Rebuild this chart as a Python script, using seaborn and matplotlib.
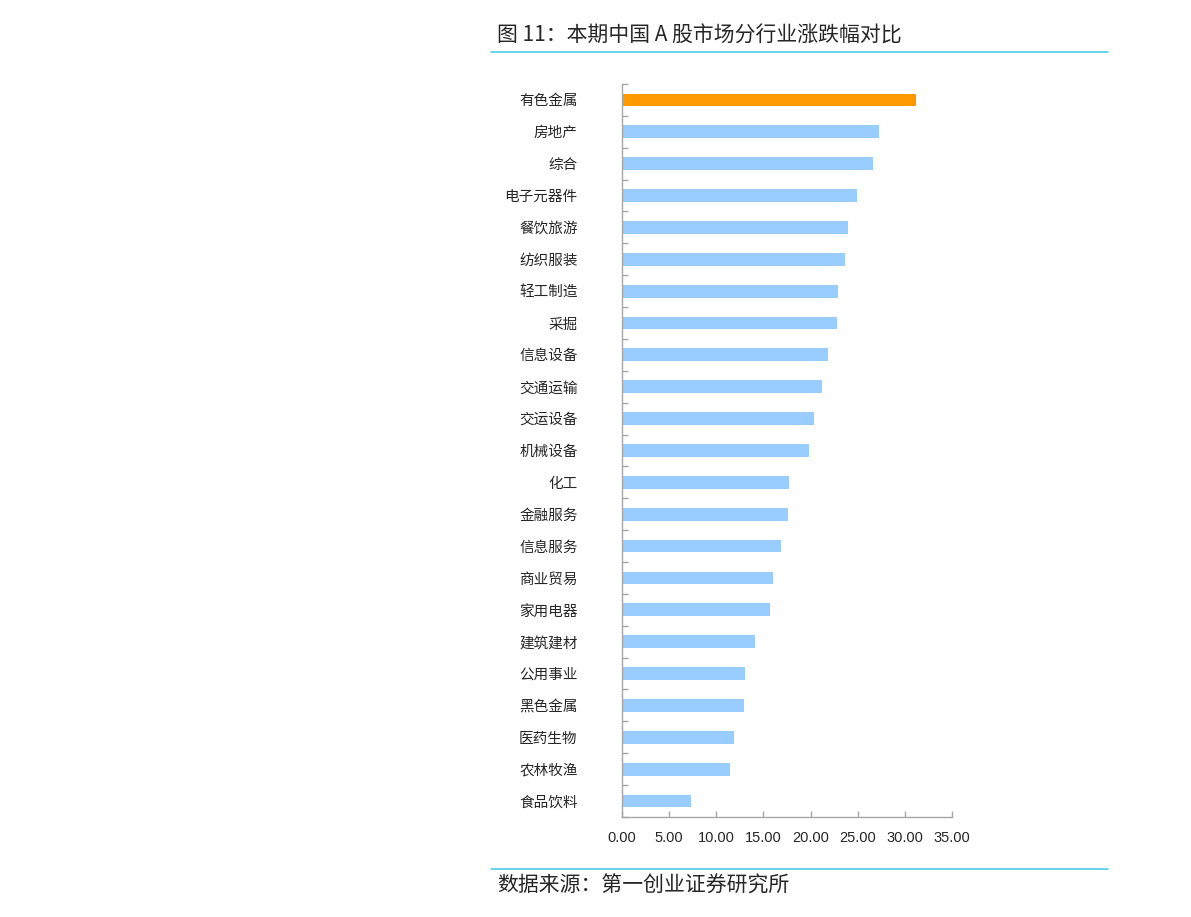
import matplotlib
matplotlib.use("Agg")
import matplotlib.pyplot as plt
import matplotlib.ticker as mticker
from matplotlib.lines import Line2D
import pandas as pd
import seaborn as sns

# 行业与涨跌幅 (%), 读自原图
industries = [
    "有色金属", "房地产", "综合", "电子元器件", "餐饮旅游", "纺织服装",
    "轻工制造", "采掘", "信息设备", "交通运输", "交运设备", "机械设备",
    "化工", "金融服务", "信息服务", "商业贸易", "家用电器", "建筑建材",
    "公用事业", "黑色金属", "医药生物", "农林牧渔", "食品饮料",
]
changes = [
    31.2, 27.3, 26.6, 24.9, 24.0, 23.6,
    22.9, 22.8, 21.9, 21.2, 20.4, 19.8,
    17.7, 17.6, 16.9, 16.0, 15.7, 14.1,
    13.0, 12.9, 11.9, 11.5, 7.3,
]
highlight = "有色金属"
x_ticks = [0, 5, 10, 15, 20, 25, 30, 35]

title = "图 11：本期中国 A 股市场分行业涨跌幅对比"
source = "数据来源：第一创业证券研究所"

ORANGE = "#FF9900"
BLUE = "#99CCFF"
CYAN = "#4FCDEB"
AXIS_GRAY = "#A6A6A6"

sns.set_style("white")
plt.rcParams["font.family"] = ["Noto Sans CJK SC", "DejaVu Sans"]

df = pd.DataFrame({"industry": industries, "change": changes})
palette = {name: (ORANGE if name == highlight else BLUE) for name in industries}

fig = plt.figure(figsize=(11.91, 9.17), dpi=100)
ax = fig.add_axes([0.5223, 0.1091, 0.2770, 0.7993])

sns.barplot(
    data=df, x="change", y="industry", hue="industry",
    palette=palette, order=industries, width=0.4,
    legend=False, ax=ax, edgecolor="none", saturation=1,
)

ax.set_xlim(0, 35)
ax.set_ylim(len(industries) - 0.5, -0.5)
ax.set_xticks(x_ticks)
ax.xaxis.set_major_formatter(mticker.FuncFormatter(lambda v, _: f"{v:.2f}"))
ax.set_xlabel("")
ax.set_ylabel("")

# 类别之间的刻度线
ax.set_yticks([i - 0.5 for i in range(len(industries) + 1)], minor=True)
ax.tick_params(left=True, bottom=True)
ax.tick_params(axis="y", which="major", length=0, pad=32, labelsize=10.5)
ax.tick_params(axis="y", which="minor", direction="in", length=4,
               color=AXIS_GRAY, width=1, left=True)
ax.tick_params(axis="x", direction="in", length=4, color=AXIS_GRAY,
               width=1, pad=10, labelsize=10.5)
for lbl in ax.get_xticklabels():
    lbl.set_fontfamily(["Liberation Sans", "DejaVu Sans"])

for side in ["top", "right"]:
    ax.spines[side].set_visible(False)
for side in ["left", "bottom"]:
    ax.spines[side].set_color(AXIS_GRAY)
    ax.spines[side].set_linewidth(1)

# 标题、来源与分隔线
fig.text(0.4173, 1 - 36 / 917, title, fontsize=15, va="center", ha="left")
fig.text(0.4173, 1 - 886 / 917, source, fontsize=15, va="center", ha="left")
for y in [1 - 52 / 917, 1 - 869 / 917]:
    fig.add_artist(Line2D([491 / 1191, 1108 / 1191], [y, y],
                          color=CYAN, linewidth=1.2, transform=fig.transFigure))

fig.savefig("out.png", dpi=100)
